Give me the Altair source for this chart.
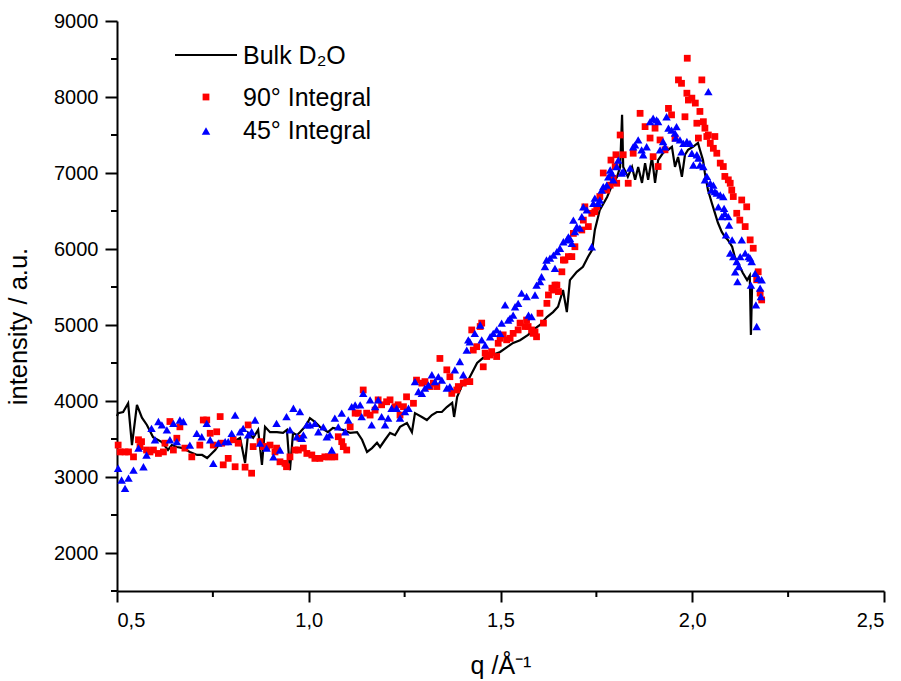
import altair as alt
import pandas as pd

# ---------------- data ----------------
bulk_q = [0.500, 0.503, 0.516, 0.529, 0.539, 0.552, 0.565, 0.578, 0.594, 0.617, 0.633, 0.643, 0.656, 0.672,
          0.690, 0.709, 0.722, 0.735, 0.743, 0.756, 0.769, 0.787, 0.802, 0.821, 0.834, 0.842, 0.855, 0.868,
          0.878, 0.886, 0.899, 0.917, 0.933, 0.943, 0.951, 0.959, 0.969, 0.977, 0.990, 0.998, 1.003, 1.016,
          1.029, 1.050, 1.063, 1.089, 1.108, 1.126, 1.139, 1.152, 1.165, 1.178, 1.186, 1.199, 1.212, 1.225,
          1.238, 1.256, 1.269, 1.277, 1.295, 1.308, 1.321, 1.334, 1.347, 1.360, 1.374, 1.379, 1.387, 1.400,
          1.413, 1.420, 1.439, 1.454, 1.478, 1.499, 1.517, 1.533, 1.551, 1.572, 1.585, 1.603, 1.621, 1.637,
          1.650, 1.663, 1.673, 1.681, 1.699, 1.715, 1.728, 1.739, 1.746, 1.759, 1.778, 1.791, 1.804, 1.812,
          1.817, 1.820, 1.832, 1.843, 1.851, 1.859, 1.869, 1.877, 1.885, 1.895, 1.903, 1.911, 1.924, 1.937,
          1.947, 1.955, 1.963, 1.973, 1.981, 1.989, 2.002, 2.015, 2.020, 2.028, 2.033, 2.041, 2.051, 2.059,
          2.067, 2.077, 2.085, 2.093, 2.104, 2.111, 2.124, 2.132, 2.143, 2.150, 2.153, 2.156]
bulk_i = [3800, 3840, 3855, 3970, 3420, 3950, 3780, 3685, 3525, 3460, 3355, 3420, 3395, 3380,
          3330, 3290, 3290, 3250, 3290, 3355, 3450, 3450, 3460, 3515, 3185, 3580, 3515, 3620,
          3160, 3660, 3590, 3590, 3580, 3620, 3090, 3580, 3550, 3590, 3660, 3725, 3775, 3725,
          3660, 3590, 3645, 3620, 3580, 3590, 3490, 3330, 3380, 3450, 3395, 3490, 3580, 3550,
          3660, 3710, 3590, 3840, 3790, 3750, 3815, 3855, 3855, 3920, 3975, 3790, 4055, 4210,
          4250, 4315, 4500, 4565, 4605, 4645, 4710, 4765, 4800, 4870, 4935, 5000, 5105, 5170,
          5240, 5460, 5170, 5590, 5700, 5765, 5895, 5990, 6250, 6515, 6685, 6840, 6950, 7080,
          7765, 7080, 6950, 7080, 6910, 7080, 6870, 7130, 6910, 7210, 6870, 7170, 7265, 7305,
          7345, 7080, 7210, 6950, 7240, 7305, 7345, 7395, 7305, 7170, 7000, 6775, 6605, 6475,
          6345, 6225, 6160, 6120, 6030, 5895, 5765, 5685, 5590, 5650, 4870, 5500]

red_q = [0.503, 0.508, 0.521, 0.530, 0.543, 0.556, 0.560, 0.564, 0.577, 0.586, 0.595, 0.608, 0.621, 0.625,
         0.638, 0.647, 0.656, 0.664, 0.677, 0.695, 0.716, 0.725, 0.734, 0.743, 0.751, 0.760, 0.769, 0.773,
         0.777, 0.790, 0.803, 0.808, 0.816, 0.834, 0.842, 0.851, 0.855, 0.873, 0.881, 0.890, 0.899, 0.912,
         0.916, 0.925, 0.938, 0.942, 0.951, 0.964, 0.973, 0.977, 0.986, 0.995, 1.008, 1.016, 1.029, 1.042,
         1.051, 1.060, 1.068, 1.077, 1.086, 1.090, 1.099, 1.108, 1.121, 1.129, 1.142, 1.151, 1.160, 1.173,
         1.181, 1.190, 1.203, 1.212, 1.225, 1.233, 1.238, 1.247, 1.255, 1.273, 1.281, 1.295, 1.303, 1.316,
         1.325, 1.334, 1.342, 1.360, 1.368, 1.373, 1.386, 1.390, 1.403, 1.412, 1.420, 1.425, 1.429, 1.438,
         1.447, 1.451, 1.455, 1.460, 1.464, 1.473, 1.477, 1.490, 1.494, 1.499, 1.507, 1.516, 1.525, 1.533,
         1.546, 1.551, 1.564, 1.568, 1.572, 1.581, 1.585, 1.590, 1.594, 1.603, 1.612, 1.621, 1.625, 1.634,
         1.638, 1.642, 1.647, 1.651, 1.660, 1.664, 1.668, 1.677, 1.686, 1.690, 1.694, 1.712, 1.716, 1.720,
         1.729, 1.738, 1.746, 1.751, 1.759, 1.768, 1.777, 1.786, 1.788, 1.794, 1.799, 1.801, 1.803, 1.812,
         1.820, 1.833, 1.846, 1.864, 1.877, 1.890, 1.898, 1.903, 1.911, 1.916, 1.929, 1.938, 1.946, 1.955,
         1.964, 1.972, 1.981, 1.986, 1.987, 1.990, 1.999, 2.008, 2.012, 2.016, 2.020, 2.025, 2.029, 2.033,
         2.038, 2.042, 2.047, 2.055, 2.059, 2.064, 2.073, 2.081, 2.085, 2.094, 2.099, 2.103, 2.107, 2.116,
         2.124, 2.129, 2.138, 2.142, 2.151, 2.159, 2.168, 2.172, 2.177, 2.181]
red_i = [3420, 3330, 3330, 3330, 3265, 3490, 3400, 3465, 3355, 3330, 3355, 3310, 3330, 3445,
         3730, 3355, 3510, 3660, 3380, 3265, 3420, 3750, 3750, 3575, 3420, 3595, 3795, 3445,
         3160, 3245, 3490, 3135, 3445, 3130, 3685, 3050, 3400, 3465, 3400, 3400, 3420, 3330,
         3380, 3200, 3180, 3135, 3265, 3355, 3355, 3510, 3380, 3310, 3290, 3245, 3245, 3265,
         3265, 3265, 3265, 3530, 3465, 3400, 3355, 3660, 3840, 3840, 4145, 3840, 3815, 3880,
         4015, 3950, 3990, 4015, 3925, 3950, 3815, 3925, 4055, 3970, 4275, 4235, 4255, 4190,
         4235, 4190, 4560, 4410, 4320, 4100, 4145, 4190, 4235, 4255, 4255, 4935, 4670, 4715,
         4980, 5025, 4450, 4630, 4585, 4605, 4650, 4585, 4760, 4825, 4870, 4805, 4825, 4890,
         4935, 5025, 4980, 5065, 4980, 4935, 4890, 4910, 4845, 5155, 5025, 5285, 5395, 5485,
         5460, 5525, 5525, 5440, 5700, 5855, 5855, 5900, 5900, 6205, 6030, 6250, 6380, 6555,
         6295, 6470, 6490, 6555, 6690, 7000, 6775, 6840, 7170, 6930, 7085, 7240, 6865, 7500,
         7240, 6865, 7260, 7785, 7610, 7460, 7215, 7590, 7085, 7435, 7305, 7850, 7765, 7460,
         8225, 8180, 7740, 8050, 8510, 7960, 7985, 7920, 7655, 7460, 7810, 8225, 7675, 7590,
         7480, 7500, 7390, 7325, 7480, 7260, 7130, 7085, 6955, 6910, 6865, 6775, 6690, 6470,
         6380, 6645, 6295, 6555, 6120, 6010, 5595, 5700, 5420, 5330]

blue_q = [0.503, 0.512, 0.521, 0.530, 0.543, 0.556, 0.569, 0.577, 0.590, 0.599, 0.608, 0.617, 0.630, 0.638,
          0.647, 0.656, 0.664, 0.673, 0.690, 0.708, 0.721, 0.734, 0.743, 0.751, 0.764, 0.782, 0.790, 0.799,
          0.808, 0.821, 0.829, 0.842, 0.851, 0.860, 0.873, 0.890, 0.908, 0.916, 0.925, 0.942, 0.951, 0.960,
          0.969, 0.977, 0.982, 0.986, 0.995, 1.003, 1.016, 1.025, 1.038, 1.047, 1.055, 1.060, 1.068, 1.077,
          1.086, 1.095, 1.103, 1.112, 1.121, 1.134, 1.138, 1.142, 1.160, 1.164, 1.173, 1.181, 1.190, 1.199,
          1.207, 1.216, 1.229, 1.238, 1.251, 1.260, 1.277, 1.286, 1.295, 1.303, 1.312, 1.321, 1.329, 1.338,
          1.347, 1.360, 1.368, 1.381, 1.394, 1.403, 1.412, 1.416, 1.420, 1.433, 1.447, 1.451, 1.460, 1.473,
          1.481, 1.490, 1.499, 1.503, 1.512, 1.520, 1.525, 1.533, 1.538, 1.546, 1.555, 1.568, 1.573, 1.581,
          1.590, 1.594, 1.603, 1.607, 1.616, 1.620, 1.629, 1.638, 1.642, 1.647, 1.655, 1.664, 1.673, 1.677,
          1.681, 1.686, 1.690, 1.694, 1.699, 1.707, 1.712, 1.716, 1.725, 1.738, 1.742, 1.746, 1.755, 1.759,
          1.764, 1.768, 1.777, 1.781, 1.786, 1.790, 1.794, 1.803, 1.807, 1.816, 1.820, 1.838, 1.846, 1.851,
          1.859, 1.868, 1.872, 1.881, 1.890, 1.898, 1.907, 1.911, 1.916, 1.924, 1.929, 1.933, 1.938, 1.946,
          1.955, 1.957, 1.959, 1.968, 1.972, 1.977, 1.986, 1.994, 1.999, 2.003, 2.012, 2.016, 2.020, 2.029,
          2.033, 2.038, 2.042, 2.047, 2.050, 2.055, 2.059, 2.064, 2.068, 2.073, 2.077, 2.081, 2.083, 2.085,
          2.088, 2.094, 2.096, 2.099, 2.104, 2.107, 2.112, 2.116, 2.118, 2.121, 2.125, 2.129, 2.138, 2.147,
          2.151, 2.153, 2.155, 2.164, 2.166, 2.168, 2.172, 2.177, 2.179, 2.181]
blue_i = [3115, 2960, 2850, 2985, 3090, 3380, 3135, 3290, 3640, 3490, 3730, 3685, 3620, 3490,
          3705, 3465, 3750, 3730, 3420, 3575, 3530, 3705, 3490, 3180, 3445, 3465, 3465, 3575,
          3815, 3595, 3640, 3555, 3595, 3750, 3445, 3380, 3265, 3705, 3355, 3795, 3620, 3905,
          3530, 3860, 3510, 3555, 3685, 3685, 3705, 3595, 3660, 3530, 3555, 3355, 3775, 3660,
          3840, 3595, 3750, 3925, 3950, 3950, 3795, 4100, 4015, 3685, 3925, 4015, 3795, 3685,
          3775, 3905, 3905, 3775, 3860, 3905, 4255, 4125, 4100, 4170, 4210, 4345, 4255, 4320,
          4275, 4170, 4190, 4410, 4520, 4345, 4670, 4805, 4780, 4890, 5000, 4805, 4735, 4845,
          4890, 4935, 4890, 5025, 5265, 5065, 5090, 5130, 5240, 5285, 5420, 5375, 5130, 5110,
          5395, 5525, 5570, 5635, 5770, 5855, 5880, 5920, 5745, 5965, 6010, 6095, 6120, 6160,
          6140, 6075, 6380, 6230, 6295, 6275, 6425, 6555, 6515, 6030, 6600, 6670, 6600, 6645,
          6775, 6820, 6840, 6950, 7040, 7000, 6910, 7085, 7170, 7000, 7020, 7065, 7345, 7370,
          7435, 7305, 7240, 7345, 7675, 7720, 7700, 7675, 7305, 7415, 7345, 7740, 7590, 7565,
          7525, 7460, 7610, 7435, 7280, 7390, 7415, 7390, 7260, 7105, 7240, 7195, 7105, 7085,
          6910, 6955, 8070, 6865, 6775, 6840, 6755, 6735, 6555, 6710, 6425, 6690, 6535, 6470,
          6185, 6425, 6315, 5945, 6120, 5900, 5700, 5835, 5570, 5770, 5900, 6120, 5945, 5900,
          5880, 5525, 5835, 5680, 5265, 4980, 5615, 5485, 5375, 5595]

x_major = [0.5, 1.0, 1.5, 2.0, 2.5]
x_minor = [0.75, 1.25, 1.75, 2.25]
y_major = [2000, 3000, 4000, 5000, 6000, 7000, 8000, 9000]
y_minor = [1500, 2500, 3500, 4500, 5500, 6500, 7500, 8500]
legend_labels = ["Bulk D\u2082O", "90\u00b0 Integral", "45\u00b0 Integral"]
x_title = "q /\u00c5\u207b\u00b9"
y_title = "intensity / a.u."

# ---------------- chart ----------------
FONT = "Liberation Sans"
W, H = 767, 570

bulk = pd.DataFrame({"q": bulk_q, "I": bulk_i})
red = pd.DataFrame({"q": red_q, "I": red_i})
blue = pd.DataFrame({"q": blue_q, "I": blue_i})

xs = alt.Scale(domain=[0.5, 2.5], nice=False, zero=False)
ys = alt.Scale(domain=[1500, 9000], nice=False, zero=False)

xenc = alt.X("q:Q", scale=xs, axis=alt.Axis(
    values=x_major, labelExpr="replace(format(datum.value, '.1f'), '.', ',')",
    title=x_title, titleX=W / 2, titleY=82, titleBaseline="alphabetic", titleAlign="center",
    titleFontSize=25, labelPadding=8, tickSize=11))
yenc = alt.Y("I:Q", scale=ys, axis=alt.Axis(
    values=y_major, format="d", title=y_title, titleX=-91, titleY=305, titleAngle=270,
    titleBaseline="alphabetic", titleAlign="center", titleFontSize=25.5, labelPadding=7, tickSize=12))

line = alt.Chart(bulk).mark_line(color="#000000", strokeWidth=2.2).encode(x=xenc, y=yenc)
pts_red = alt.Chart(red).mark_point(shape="square", filled=True, size=46, color="#ff0000",
                                    opacity=1).encode(x=xenc, y=yenc)
pts_blue = alt.Chart(blue).mark_point(shape="triangle-up", filled=True, size=72, color="#0000ff",
                                      opacity=1).encode(x=xenc, y=yenc)

minor_x = alt.Chart(pd.DataFrame({"q": x_minor})).mark_rule(color="black", strokeWidth=2).encode(
    x=xenc, y=alt.value(H), y2=alt.value(H + 6))
minor_y = alt.Chart(pd.DataFrame({"I": y_minor})).mark_rule(color="black", strokeWidth=2).encode(
    y=yenc, x=alt.value(-6), x2=alt.value(0))

one = alt.Data(values=[{"k": 0}])
leg_line = alt.Chart(one).mark_rule(color="black", strokeWidth=2.2).encode(
    x=alt.value(58), x2=alt.value(120), y=alt.value(34))
leg_red = alt.Chart(one).mark_point(shape="square", filled=True, size=46, color="#ff0000",
                                    opacity=1).encode(x=alt.value(89), y=alt.value(76))
leg_blue = alt.Chart(one).mark_point(shape="triangle-up", filled=True, size=72, color="#0000ff",
                                     opacity=1).encode(x=alt.value(89), y=alt.value(110))
leg_texts = [
    alt.Chart(one).mark_text(text=lab, align="left", baseline="middle", font=FONT, fontSize=25,
                             color="black").encode(x=alt.value(126), y=alt.value(yy))
    for lab, yy in zip(legend_labels, [35, 77, 110])
]

chart = alt.layer(line, pts_red, pts_blue, minor_x, minor_y, leg_line, leg_red, leg_blue,
                  *leg_texts).properties(
    width=W, height=H,
    autosize=alt.AutoSizeParams(type="none"),
    padding={"left": 117, "top": 21, "right": 17, "bottom": 90},
    background="white",
).configure_view(stroke=None).configure_axis(
    grid=False, domainColor="black", domainWidth=2, tickColor="black", tickWidth=2,
    labelFont=FONT, labelFontSize=20, labelColor="black",
    titleFont=FONT, titleFontSize=24, titleColor="black", titleFontWeight="normal",
)

chart.save("out.html", embed_options={"renderer": "svg", "actions": False})
